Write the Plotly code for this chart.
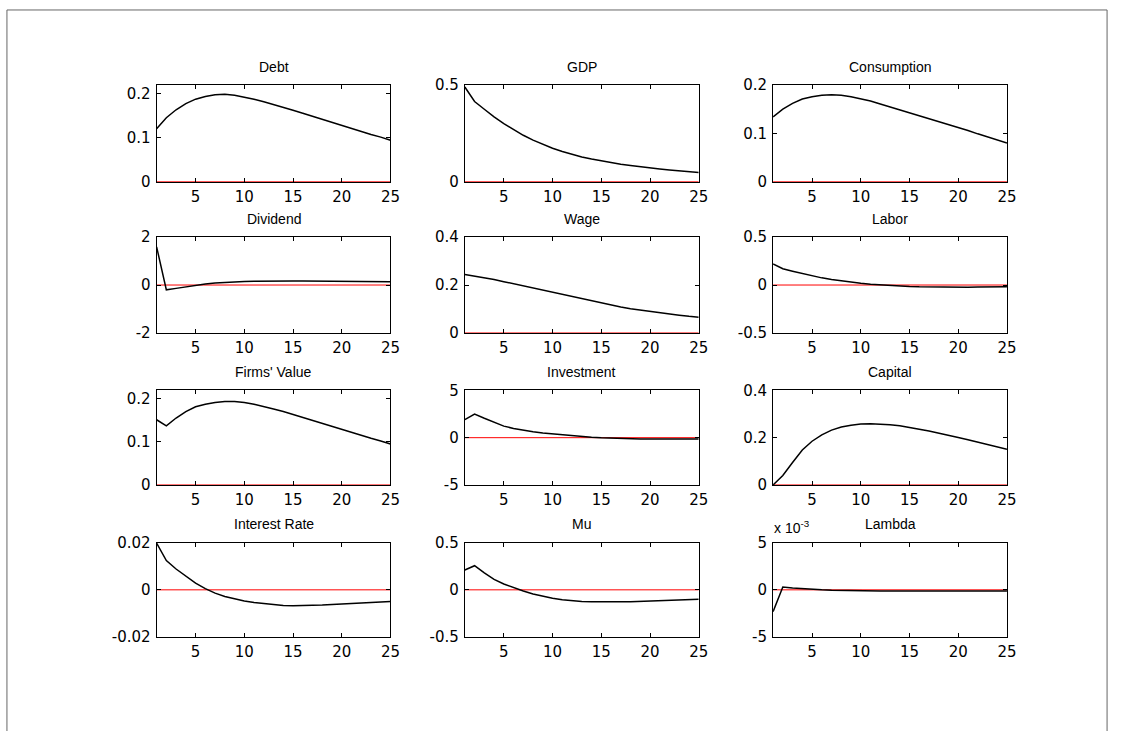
import plotly.graph_objects as go

W, H = 1125, 731
periods = list(range(1, 26))

debt = [0.120, 0.145, 0.163, 0.177, 0.187, 0.193, 0.197, 0.198, 0.196, 0.192, 0.187, 0.181, 0.175,
        0.168, 0.162, 0.155, 0.148, 0.141, 0.134, 0.128, 0.121, 0.114, 0.107, 0.101, 0.094]
gdp = [0.490, 0.415, 0.375, 0.335, 0.300, 0.268, 0.240, 0.215, 0.193, 0.173, 0.156, 0.141, 0.128,
       0.117, 0.107, 0.098, 0.090, 0.083, 0.076, 0.070, 0.065, 0.060, 0.055, 0.051, 0.047]
consumption = [0.134, 0.150, 0.162, 0.171, 0.176, 0.179, 0.180, 0.179, 0.176, 0.172, 0.167, 0.161, 0.155,
               0.149, 0.142, 0.136, 0.130, 0.124, 0.118, 0.112, 0.106, 0.099, 0.093, 0.087, 0.080]
dividend = [1.60, -0.20, -0.14, -0.07, -0.01, 0.04, 0.08, 0.11, 0.13, 0.15, 0.16, 0.17, 0.17,
            0.17, 0.17, 0.17, 0.17, 0.16, 0.16, 0.16, 0.15, 0.15, 0.15, 0.14, 0.14]
wage = [0.244, 0.238, 0.231, 0.223, 0.214, 0.205, 0.196, 0.187, 0.178, 0.169, 0.160, 0.150, 0.141,
        0.132, 0.123, 0.115, 0.108, 0.101, 0.095, 0.089, 0.083, 0.078, 0.074, 0.069, 0.065]
labor = [0.220, 0.170, 0.145, 0.120, 0.095, 0.075, 0.058, 0.043, 0.030, 0.018, 0.008, 0.000, -0.007,
         -0.012, -0.016, -0.019, -0.021, -0.022, -0.023, -0.023, -0.022, -0.021, -0.020, -0.019, -0.018]
firms_value = [0.151, 0.137, 0.155, 0.170, 0.181, 0.187, 0.191, 0.193, 0.193, 0.191, 0.187, 0.182, 0.176,
               0.170, 0.163, 0.157, 0.150, 0.143, 0.136, 0.129, 0.122, 0.115, 0.108, 0.102, 0.095]
investment = [1.90, 2.50, 2.05, 1.60, 1.22, 0.98, 0.78, 0.62, 0.50, 0.40, 0.30, 0.20, 0.12,
              0.05, -0.01, -0.06, -0.09, -0.12, -0.13, -0.14, -0.15, -0.15, -0.15, -0.14, -0.14]
capital = [0.000, 0.040, 0.095, 0.148, 0.185, 0.212, 0.232, 0.245, 0.253, 0.258, 0.259, 0.258, 0.255,
           0.250, 0.244, 0.236, 0.228, 0.220, 0.211, 0.201, 0.191, 0.181, 0.171, 0.161, 0.151]
interest_rate = [0.0198, 0.0124, 0.0088, 0.0056, 0.0028, 0.0005, -0.0014, -0.0028, -0.0039, -0.0047,
                 -0.0054, -0.0059, -0.0063, -0.0066, -0.0067, -0.0067, -0.0066, -0.0064, -0.0062,
                 -0.0060, -0.0058, -0.0056, -0.0053, -0.0051, -0.0049]
mu = [0.210, 0.255, 0.180, 0.110, 0.062, 0.022, -0.013, -0.043, -0.070, -0.090, -0.105, -0.115, -0.122,
      -0.126, -0.128, -0.128, -0.127, -0.125, -0.122, -0.118, -0.114, -0.110, -0.106, -0.103, -0.100]
lam = [-0.0023, 0.0003, 0.0002, 0.00012, 0.00005, 0.0, -0.00004, -0.00007, -0.00009, -0.00011,
       -0.00012, -0.00012, -0.00013, -0.00013, -0.00013, -0.00013, -0.00013, -0.00013, -0.00013,
       -0.00013, -0.00013, -0.00012, -0.00012, -0.00012, -0.00011]

titles = ["Debt", "GDP", "Consumption", "Dividend", "Wage", "Labor",
          "Firms' Value", "Investment", "Capital", "Interest Rate", "Mu", "Lambda"]
series = [debt, gdp, consumption, dividend, wage, labor,
          firms_value, investment, capital, interest_rate, mu, lam]
y_ranges = [[0, 0.219], [0, 0.5], [0, 0.2], [-2, 2], [0, 0.4], [-0.5, 0.5],
            [0, 0.219], [-5, 5], [0, 0.4], [-0.02, 0.02], [-0.5, 0.5], [-0.005, 0.005]]
y_tickvals = [[0, 0.1, 0.2], [0, 0.5], [0, 0.1, 0.2], [-2, 0, 2], [0, 0.2, 0.4], [-0.5, 0, 0.5],
              [0, 0.1, 0.2], [-5, 0, 5], [0, 0.2, 0.4], [-0.02, 0, 0.02], [-0.5, 0, 0.5],
              [-0.005, 0, 0.005]]
y_ticktext = [["0", "0.1", "0.2"], ["0", "0.5"], ["0", "0.1", "0.2"], ["-2", "0", "2"],
              ["0", "0.2", "0.4"], ["-0.5", "0", "0.5"], ["0", "0.1", "0.2"], ["-5", "0", "5"],
              ["0", "0.2", "0.4"], ["-0.02", "0", "0.02"], ["-0.5", "0", "0.5"], ["-5", "0", "5"]]
x_tickvals = [5, 10, 15, 20, 25]
x_ticktext = ["5", "10", "15", "20", "25"]

col_px = [(158, 394), (469, 705), (780, 1016)]
row_px = [(78, 177), (234, 332), (391, 488), (547, 644)]

TITLE_FONT = "Liberation Sans, Arial, sans-serif"
TICK_FONT = "DejaVu Sans, sans-serif"
fig = go.Figure()
annotations = []
for i in range(12):
    r, c = divmod(i, 3)
    n = i + 1
    xa = "x" if n == 1 else f"x{n}"
    ya = "y" if n == 1 else f"y{n}"
    fig.add_trace(go.Scatter(x=periods, y=[0] * len(periods), mode="lines",
                             line=dict(color="#ff0000", width=1), xaxis=xa, yaxis=ya,
                             showlegend=False, hoverinfo="skip"))
    fig.add_trace(go.Scatter(x=periods, y=series[i], mode="lines",
                             line=dict(color="black", width=1.5), xaxis=xa, yaxis=ya,
                             showlegend=False))
    x0, x1 = col_px[c]
    t, b = row_px[r]
    axis_common = dict(showline=True, linecolor="black", linewidth=1, mirror="ticks",
                       ticks="inside", ticklen=4, tickcolor="black", showgrid=False,
                       zeroline=False, tickfont=dict(family=TICK_FONT, size=15, color="black"))
    fig.update_layout(**{
        f"xaxis{'' if n == 1 else n}": dict(domain=[x0 / W, x1 / W], range=[1, 25],
                                            tickvals=x_tickvals, ticktext=x_ticktext,
                                            anchor=ya, ticklabelstandoff=1, **axis_common),
        f"yaxis{'' if n == 1 else n}": dict(domain=[1 - b / H, 1 - t / H], range=y_ranges[i],
                                            tickvals=y_tickvals[i], ticktext=y_ticktext[i],
                                            anchor=xa, ticklabelstandoff=2, **axis_common),
    })
    annotations.append(dict(text=titles[i], xref="paper", yref="paper",
                            x=(x0 + x1) / 2 / W, y=1 - (t - 19) / H,
                            xanchor="center", yanchor="middle", showarrow=False,
                            font=dict(family=TITLE_FONT, size=14, color="black")))

annotations.append(dict(text="x 10<sup>-3</sup>", xref="paper", yref="paper",
                        x=779 / W, y=1 - 531 / H, xanchor="left", yanchor="middle",
                        showarrow=False, font=dict(family=TITLE_FONT, size=14, color="black")))

fig.update_layout(
    width=W, height=H, margin=dict(l=0, r=0, t=0, b=0),
    paper_bgcolor="white", plot_bgcolor="white",
    annotations=annotations,
    shapes=[dict(type="rect", xref="paper", yref="paper", x0=7 / W, x1=1117 / W,
                 y0=-0.05, y1=1 - 1 / H, line=dict(color="#666666", width=1))],
)

fig.write_html("out.html")
